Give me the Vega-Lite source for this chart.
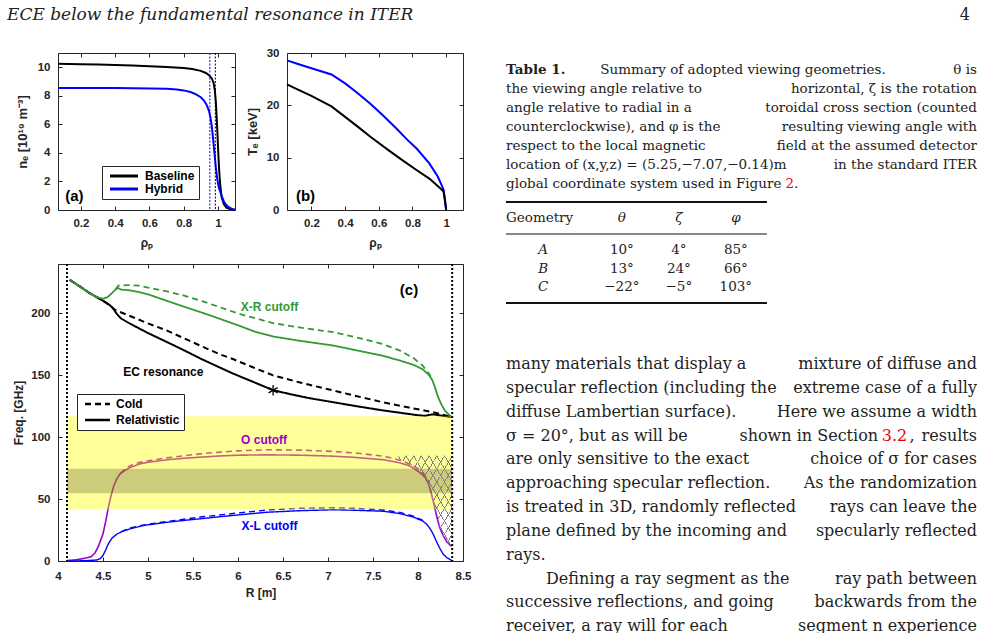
{
  "$schema": "https://vega.github.io/schema/vega-lite/v6.json",
  "background": "white",
  "padding": {"left": 7, "top": 6, "right": 0, "bottom": 0},
  "bounds": "flush",
  "spacing": 30,
  "resolve": {"scale": {"color": "independent", "strokeDash": "independent", "strokeWidth": "independent"}, "legend": {"color": "independent", "strokeDash": "independent"}},
  "datasets": {
    "curves": [
      {"R":4.13,"f":227.2,"c":"EC","m":"Relativistic"},{"R":4.25,"f":221.5,"c":"EC","m":"Relativistic"},{"R":4.35,"f":216.5,"c":"EC","m":"Relativistic"},{"R":4.43,"f":213.2,"c":"EC","m":"Relativistic"},{"R":4.5,"f":210.3,"c":"EC","m":"Relativistic"},{"R":4.58,"f":206.5,"c":"EC","m":"Relativistic"},{"R":4.615,"f":203.8,"c":"EC","m":"Relativistic"},{"R":4.65,"f":200,"c":"EC","m":"Relativistic"},{"R":4.7,"f":196,"c":"EC","m":"Relativistic"},{"R":4.8,"f":191.8,"c":"EC","m":"Relativistic"},{"R":5.0,"f":184.2,"c":"EC","m":"Relativistic"},{"R":5.2,"f":177.3,"c":"EC","m":"Relativistic"},{"R":5.4,"f":170.3,"c":"EC","m":"Relativistic"},{"R":5.6,"f":163,"c":"EC","m":"Relativistic"},{"R":5.8,"f":156.3,"c":"EC","m":"Relativistic"},{"R":5.95,"f":151.3,"c":"EC","m":"Relativistic"},{"R":6.2,"f":143.8,"c":"EC","m":"Relativistic"},{"R":6.39,"f":138,"c":"EC","m":"Relativistic"},{"R":6.6,"f":134.5,"c":"EC","m":"Relativistic"},{"R":6.8,"f":131.5,"c":"EC","m":"Relativistic"},{"R":7.06,"f":128.3,"c":"EC","m":"Relativistic"},{"R":7.3,"f":125.3,"c":"EC","m":"Relativistic"},{"R":7.6,"f":121.8,"c":"EC","m":"Relativistic"},{"R":7.8,"f":119.8,"c":"EC","m":"Relativistic"},{"R":8.0,"f":117.8,"c":"EC","m":"Relativistic"},{"R":8.08,"f":117.3,"c":"EC","m":"Relativistic"},{"R":8.12,"f":118,"c":"EC","m":"Relativistic"},{"R":8.17,"f":118.5,"c":"EC","m":"Relativistic"},{"R":8.25,"f":117.6,"c":"EC","m":"Relativistic"},{"R":8.38,"f":116.2,"c":"EC","m":"Relativistic"},
      {"R":4.13,"f":227.2,"c":"EC","m":"Cold"},{"R":4.25,"f":221.5,"c":"EC","m":"Cold"},{"R":4.35,"f":216.5,"c":"EC","m":"Cold"},{"R":4.43,"f":213.2,"c":"EC","m":"Cold"},{"R":4.5,"f":210.3,"c":"EC","m":"Cold"},{"R":4.58,"f":206.5,"c":"EC","m":"Cold"},{"R":4.63,"f":203,"c":"EC","m":"Cold"},{"R":4.8,"f":198,"c":"EC","m":"Cold"},{"R":5.0,"f":192,"c":"EC","m":"Cold"},{"R":5.2,"f":186.5,"c":"EC","m":"Cold"},{"R":5.4,"f":180,"c":"EC","m":"Cold"},{"R":5.58,"f":174,"c":"EC","m":"Cold"},{"R":5.8,"f":167,"c":"EC","m":"Cold"},{"R":5.95,"f":163,"c":"EC","m":"Cold"},{"R":6.2,"f":155.5,"c":"EC","m":"Cold"},{"R":6.39,"f":150,"c":"EC","m":"Cold"},{"R":6.7,"f":144,"c":"EC","m":"Cold"},{"R":7.06,"f":137.8,"c":"EC","m":"Cold"},{"R":7.3,"f":133.5,"c":"EC","m":"Cold"},{"R":7.61,"f":128.3,"c":"EC","m":"Cold"},{"R":7.9,"f":124,"c":"EC","m":"Cold"},{"R":8.17,"f":120.2,"c":"EC","m":"Cold"},{"R":8.38,"f":116.2,"c":"EC","m":"Cold"},
      {"R":4.13,"f":227.2,"c":"XR","m":"Relativistic"},{"R":4.25,"f":221.5,"c":"XR","m":"Relativistic"},{"R":4.35,"f":216.5,"c":"XR","m":"Relativistic"},{"R":4.43,"f":213.2,"c":"XR","m":"Relativistic"},{"R":4.5,"f":211.9,"c":"XR","m":"Relativistic"},{"R":4.55,"f":213.2,"c":"XR","m":"Relativistic"},{"R":4.6,"f":216.5,"c":"XR","m":"Relativistic"},{"R":4.64,"f":219.5,"c":"XR","m":"Relativistic"},{"R":4.67,"f":220.5,"c":"XR","m":"Relativistic"},{"R":4.7,"f":219.3,"c":"XR","m":"Relativistic"},{"R":4.8,"f":218.7,"c":"XR","m":"Relativistic"},{"R":4.9,"f":217.3,"c":"XR","m":"Relativistic"},{"R":5.02,"f":215,"c":"XR","m":"Relativistic"},{"R":5.2,"f":210.5,"c":"XR","m":"Relativistic"},{"R":5.4,"f":205.5,"c":"XR","m":"Relativistic"},{"R":5.65,"f":199.5,"c":"XR","m":"Relativistic"},{"R":6.0,"f":190.5,"c":"XR","m":"Relativistic"},{"R":6.2,"f":185,"c":"XR","m":"Relativistic"},{"R":6.39,"f":181.4,"c":"XR","m":"Relativistic"},{"R":6.7,"f":177.8,"c":"XR","m":"Relativistic"},{"R":7.06,"f":174.1,"c":"XR","m":"Relativistic"},{"R":7.3,"f":170.5,"c":"XR","m":"Relativistic"},{"R":7.6,"f":166,"c":"XR","m":"Relativistic"},{"R":7.8,"f":162,"c":"XR","m":"Relativistic"},{"R":7.95,"f":158.5,"c":"XR","m":"Relativistic"},{"R":8.05,"f":155,"c":"XR","m":"Relativistic"},{"R":8.12,"f":150.5,"c":"XR","m":"Relativistic"},{"R":8.16,"f":146,"c":"XR","m":"Relativistic"},{"R":8.19,"f":140,"c":"XR","m":"Relativistic"},{"R":8.22,"f":133,"c":"XR","m":"Relativistic"},{"R":8.26,"f":126.5,"c":"XR","m":"Relativistic"},{"R":8.3,"f":121.5,"c":"XR","m":"Relativistic"},{"R":8.34,"f":118.5,"c":"XR","m":"Relativistic"},{"R":8.38,"f":116.2,"c":"XR","m":"Relativistic"},
      {"R":4.64,"f":219.5,"c":"XR","m":"Cold"},{"R":4.67,"f":222.6,"c":"XR","m":"Cold"},{"R":4.8,"f":223,"c":"XR","m":"Cold"},{"R":4.9,"f":222.5,"c":"XR","m":"Cold"},{"R":5.0,"f":221,"c":"XR","m":"Cold"},{"R":5.2,"f":218,"c":"XR","m":"Cold"},{"R":5.4,"f":214.5,"c":"XR","m":"Cold"},{"R":5.6,"f":210,"c":"XR","m":"Cold"},{"R":5.8,"f":205,"c":"XR","m":"Cold"},{"R":6.0,"f":200,"c":"XR","m":"Cold"},{"R":6.2,"f":196,"c":"XR","m":"Cold"},{"R":6.39,"f":192.2,"c":"XR","m":"Cold"},{"R":6.7,"f":188.5,"c":"XR","m":"Cold"},{"R":7.06,"f":184.9,"c":"XR","m":"Cold"},{"R":7.3,"f":181,"c":"XR","m":"Cold"},{"R":7.6,"f":175.5,"c":"XR","m":"Cold"},{"R":7.8,"f":170,"c":"XR","m":"Cold"},{"R":7.95,"f":164,"c":"XR","m":"Cold"},{"R":8.05,"f":158,"c":"XR","m":"Cold"},{"R":8.12,"f":151.5,"c":"XR","m":"Cold"},{"R":8.16,"f":147,"c":"XR","m":"Cold"},
      {"R":4.1,"f":0.4,"c":"O","m":"Relativistic"},{"R":4.2,"f":1,"c":"O","m":"Relativistic"},{"R":4.3,"f":2.2,"c":"O","m":"Relativistic"},{"R":4.37,"f":3.5,"c":"O","m":"Relativistic"},{"R":4.41,"f":6.5,"c":"O","m":"Relativistic"},{"R":4.45,"f":12,"c":"O","m":"Relativistic"},{"R":4.5,"f":22,"c":"O","m":"Relativistic"},{"R":4.53,"f":32,"c":"O","m":"Relativistic"},{"R":4.56,"f":43.5,"c":"O","m":"Relativistic"},{"R":4.59,"f":53,"c":"O","m":"Relativistic"},{"R":4.615,"f":59.6,"c":"O","m":"Relativistic"},{"R":4.65,"f":66,"c":"O","m":"Relativistic"},{"R":4.69,"f":70.5,"c":"O","m":"Relativistic"},{"R":4.75,"f":73.5,"c":"O","m":"Relativistic"},{"R":4.8,"f":75.5,"c":"O","m":"Relativistic"},{"R":4.91,"f":78.5,"c":"O","m":"Relativistic"},{"R":5.0,"f":79.8,"c":"O","m":"Relativistic"},{"R":5.2,"f":81.7,"c":"O","m":"Relativistic"},{"R":5.4,"f":83,"c":"O","m":"Relativistic"},{"R":5.58,"f":83.9,"c":"O","m":"Relativistic"},{"R":5.8,"f":84.9,"c":"O","m":"Relativistic"},{"R":6.0,"f":85.5,"c":"O","m":"Relativistic"},{"R":6.32,"f":85.8,"c":"O","m":"Relativistic"},{"R":6.7,"f":85.5,"c":"O","m":"Relativistic"},{"R":7.06,"f":84.7,"c":"O","m":"Relativistic"},{"R":7.3,"f":83.7,"c":"O","m":"Relativistic"},{"R":7.62,"f":81.8,"c":"O","m":"Relativistic"},{"R":7.8,"f":79.3,"c":"O","m":"Relativistic"},{"R":7.9,"f":77,"c":"O","m":"Relativistic"},{"R":7.95,"f":75,"c":"O","m":"Relativistic"},{"R":8.02,"f":71.5,"c":"O","m":"Relativistic"},{"R":8.08,"f":67.5,"c":"O","m":"Relativistic"},{"R":8.12,"f":62,"c":"O","m":"Relativistic"},{"R":8.15,"f":54,"c":"O","m":"Relativistic"},{"R":8.18,"f":45,"c":"O","m":"Relativistic"},{"R":8.21,"f":35.5,"c":"O","m":"Relativistic"},{"R":8.24,"f":27.3,"c":"O","m":"Relativistic"},{"R":8.28,"f":20.5,"c":"O","m":"Relativistic"},{"R":8.32,"f":15.5,"c":"O","m":"Relativistic"},{"R":8.37,"f":12,"c":"O","m":"Relativistic"},
      {"R":4.69,"f":70.5,"c":"O","m":"Cold"},{"R":4.75,"f":74.5,"c":"O","m":"Cold"},{"R":4.8,"f":77,"c":"O","m":"Cold"},{"R":4.9,"f":79.5,"c":"O","m":"Cold"},{"R":5.0,"f":81,"c":"O","m":"Cold"},{"R":5.2,"f":83.3,"c":"O","m":"Cold"},{"R":5.4,"f":85,"c":"O","m":"Cold"},{"R":5.58,"f":86.6,"c":"O","m":"Cold"},{"R":5.8,"f":88,"c":"O","m":"Cold"},{"R":6.0,"f":89,"c":"O","m":"Cold"},{"R":6.32,"f":89.9,"c":"O","m":"Cold"},{"R":6.7,"f":89.6,"c":"O","m":"Cold"},{"R":7.06,"f":88.5,"c":"O","m":"Cold"},{"R":7.3,"f":87.3,"c":"O","m":"Cold"},{"R":7.62,"f":84.7,"c":"O","m":"Cold"},{"R":7.8,"f":81.5,"c":"O","m":"Cold"},{"R":7.95,"f":77,"c":"O","m":"Cold"},{"R":8.02,"f":73.5,"c":"O","m":"Cold"},{"R":8.08,"f":69,"c":"O","m":"Cold"},
      {"R":4.1,"f":0,"c":"XL","m":"Relativistic"},{"R":4.3,"f":0.2,"c":"XL","m":"Relativistic"},{"R":4.43,"f":0.8,"c":"XL","m":"Relativistic"},{"R":4.47,"f":2,"c":"XL","m":"Relativistic"},{"R":4.5,"f":4.5,"c":"XL","m":"Relativistic"},{"R":4.53,"f":9,"c":"XL","m":"Relativistic"},{"R":4.56,"f":14,"c":"XL","m":"Relativistic"},{"R":4.6,"f":18.5,"c":"XL","m":"Relativistic"},{"R":4.65,"f":21.5,"c":"XL","m":"Relativistic"},{"R":4.7,"f":23.5,"c":"XL","m":"Relativistic"},{"R":4.8,"f":26,"c":"XL","m":"Relativistic"},{"R":4.95,"f":28.7,"c":"XL","m":"Relativistic"},{"R":5.2,"f":31.2,"c":"XL","m":"Relativistic"},{"R":5.4,"f":32.8,"c":"XL","m":"Relativistic"},{"R":5.58,"f":34.1,"c":"XL","m":"Relativistic"},{"R":5.8,"f":35.8,"c":"XL","m":"Relativistic"},{"R":6.0,"f":37.2,"c":"XL","m":"Relativistic"},{"R":6.32,"f":39.4,"c":"XL","m":"Relativistic"},{"R":6.7,"f":40.7,"c":"XL","m":"Relativistic"},{"R":7.06,"f":41.4,"c":"XL","m":"Relativistic"},{"R":7.3,"f":41,"c":"XL","m":"Relativistic"},{"R":7.62,"f":40.2,"c":"XL","m":"Relativistic"},{"R":7.8,"f":38.3,"c":"XL","m":"Relativistic"},{"R":7.95,"f":35.4,"c":"XL","m":"Relativistic"},{"R":8.05,"f":32.5,"c":"XL","m":"Relativistic"},{"R":8.1,"f":29.5,"c":"XL","m":"Relativistic"},{"R":8.14,"f":25.5,"c":"XL","m":"Relativistic"},{"R":8.17,"f":21.5,"c":"XL","m":"Relativistic"},{"R":8.21,"f":15,"c":"XL","m":"Relativistic"},{"R":8.245,"f":9.9,"c":"XL","m":"Relativistic"},{"R":8.28,"f":5.5,"c":"XL","m":"Relativistic"},{"R":8.32,"f":2.8,"c":"XL","m":"Relativistic"},{"R":8.36,"f":1,"c":"XL","m":"Relativistic"},{"R":8.39,"f":0,"c":"XL","m":"Relativistic"},
      {"R":4.7,"f":23.5,"c":"XL","m":"Cold"},{"R":4.8,"f":26.8,"c":"XL","m":"Cold"},{"R":5.0,"f":29.8,"c":"XL","m":"Cold"},{"R":5.2,"f":31.8,"c":"XL","m":"Cold"},{"R":5.58,"f":35.5,"c":"XL","m":"Cold"},{"R":6.0,"f":38.8,"c":"XL","m":"Cold"},{"R":6.32,"f":41.2,"c":"XL","m":"Cold"},{"R":6.7,"f":42.6,"c":"XL","m":"Cold"},{"R":7.06,"f":43,"c":"XL","m":"Cold"},{"R":7.3,"f":42.6,"c":"XL","m":"Cold"},{"R":7.62,"f":41.2,"c":"XL","m":"Cold"},{"R":7.8,"f":39.3,"c":"XL","m":"Cold"},{"R":7.95,"f":36.2,"c":"XL","m":"Cold"},{"R":8.05,"f":33,"c":"XL","m":"Cold"}
    ],
    "hatch": [
      {"R":7.78,"f":82.5},{"R":7.9,"f":78.5},{"R":7.95,"f":76.5},{"R":8.0,"f":73.5},{"R":8.05,"f":70.5},{"R":8.1,"f":66},{"R":8.13,"f":60},{"R":8.17,"f":48.9},{"R":8.2,"f":40},{"R":8.24,"f":27.3},{"R":8.28,"f":20},{"R":8.32,"f":15.5},{"R":8.38,"f":11}
    ]
  },
  "vconcat": [
    {
      "width": 912,
      "height": 16,
      "data": {"values": [{"t": "ECE below the fundamental resonance in ITER", "p": "4"}]},
      "layer": [
        {"mark": {"type": "text", "align": "left", "baseline": "middle", "font": "DejaVu Serif", "fontStyle": "italic", "fontSize": 17, "color": "#222222"},
         "encoding": {"x": {"datum": 0, "type": "quantitative", "scale": {"domain": [0, 1], "range": [-51, 912], "nice": false, "zero": false}, "axis": null}, "text": {"field": "t"}}},
        {"mark": {"type": "text", "align": "right", "baseline": "middle", "font": "DejaVu Serif", "fontSize": 16, "color": "#222222"},
         "encoding": {"x": {"datum": 1, "type": "quantitative", "axis": null}, "text": {"field": "p"}}}
      ]
    },
    {
      "bounds": "flush",
      "spacing": 448,
      "resolve": {"scale": {"color": "independent", "strokeDash": "independent", "strokeWidth": "independent"}, "legend": {"color": "independent", "strokeDash": "independent"}},
      "hconcat": [
        {
          "bounds": "flush",
          "spacing": 211,
          "resolve": {"scale": {"color": "independent", "strokeDash": "independent", "strokeWidth": "independent"}, "legend": {"color": "independent", "strokeDash": "independent"}},
          "vconcat": [
            {
              "bounds": "flush",
              "spacing": 52,
              "resolve": {"scale": {"color": "independent"}, "legend": {"color": "independent"}},
              "hconcat": [
                {
                  "width": 177, "height": 157,
                  "resolve": {"axis": {"x": "independent", "y": "independent"}},
                  "layer": [
                    {"data": {"values": [
                      {"rho":0.066,"v":10.25,"case":"Baseline"},{"rho":0.2,"v":10.22,"case":"Baseline"},{"rho":0.3,"v":10.2,"case":"Baseline"},{"rho":0.4,"v":10.16,"case":"Baseline"},{"rho":0.5,"v":10.12,"case":"Baseline"},{"rho":0.6,"v":10.07,"case":"Baseline"},{"rho":0.7,"v":10.02,"case":"Baseline"},{"rho":0.8,"v":9.95,"case":"Baseline"},{"rho":0.85,"v":9.88,"case":"Baseline"},{"rho":0.9,"v":9.75,"case":"Baseline"},{"rho":0.93,"v":9.6,"case":"Baseline"},{"rho":0.95,"v":9.42,"case":"Baseline"},{"rho":0.965,"v":9.2,"case":"Baseline"},{"rho":0.975,"v":8.9,"case":"Baseline"},{"rho":0.982,"v":8.4,"case":"Baseline"},{"rho":0.988,"v":7.6,"case":"Baseline"},{"rho":0.993,"v":6.5,"case":"Baseline"},{"rho":0.998,"v":5.2,"case":"Baseline"},{"rho":1.003,"v":3.8,"case":"Baseline"},{"rho":1.008,"v":2.7,"case":"Baseline"},{"rho":1.014,"v":1.7,"case":"Baseline"},{"rho":1.022,"v":0.9,"case":"Baseline"},{"rho":1.035,"v":0.4,"case":"Baseline"},{"rho":1.05,"v":0.17,"case":"Baseline"},{"rho":1.07,"v":0.06,"case":"Baseline"},{"rho":1.1,"v":0.02,"case":"Baseline"},
                      {"rho":0.066,"v":8.55,"case":"Hybrid"},{"rho":0.2,"v":8.55,"case":"Hybrid"},{"rho":0.4,"v":8.54,"case":"Hybrid"},{"rho":0.6,"v":8.52,"case":"Hybrid"},{"rho":0.7,"v":8.49,"case":"Hybrid"},{"rho":0.76,"v":8.45,"case":"Hybrid"},{"rho":0.8,"v":8.38,"case":"Hybrid"},{"rho":0.84,"v":8.27,"case":"Hybrid"},{"rho":0.87,"v":8.12,"case":"Hybrid"},{"rho":0.9,"v":7.9,"case":"Hybrid"},{"rho":0.92,"v":7.65,"case":"Hybrid"},{"rho":0.935,"v":7.35,"case":"Hybrid"},{"rho":0.948,"v":6.95,"case":"Hybrid"},{"rho":0.958,"v":6.4,"case":"Hybrid"},{"rho":0.965,"v":5.8,"case":"Hybrid"},{"rho":0.972,"v":5.0,"case":"Hybrid"},{"rho":0.98,"v":4.0,"case":"Hybrid"},{"rho":0.988,"v":3.0,"case":"Hybrid"},{"rho":0.996,"v":2.2,"case":"Hybrid"},{"rho":1.005,"v":1.6,"case":"Hybrid"},{"rho":1.02,"v":1.05,"case":"Hybrid"},{"rho":1.035,"v":0.6,"case":"Hybrid"},{"rho":1.05,"v":0.33,"case":"Hybrid"},{"rho":1.068,"v":0.16,"case":"Hybrid"},{"rho":1.085,"v":0.06,"case":"Hybrid"},{"rho":1.1,"v":0.02,"case":"Hybrid"}
                    ]},
                     "mark": {"type": "line", "strokeWidth": 2},
                     "encoding": {
                       "x": {"field": "rho", "type": "quantitative", "scale": {"domain": [0.066, 1.1], "nice": false, "zero": false}, "axis": {"values": [0.2, 0.4, 0.6, 0.8, 1], "format": "~g", "title": "ρₚ", "labelPadding": 11.5, "titlePadding": 8}},
                       "y": {"field": "v", "type": "quantitative", "scale": {"domain": [0, 11], "nice": false}, "axis": {"values": [0, 2, 4, 6, 8, 10], "title": "nₑ [10¹⁹ m⁻³]", "titleFontSize": 13, "labelPadding": 12, "titlePadding": 8}},
                       "color": {"field": "case", "type": "nominal", "scale": {"domain": ["Baseline", "Hybrid"], "range": ["#000000", "#0000ff"]},
                         "legend": {"title": null, "orient": "none", "legendX": 44, "legendY": 113, "symbolType": "M-1,0L13,0", "symbolSize": 16, "symbolStrokeWidth": 3, "symbolFillColor": "transparent", "strokeColor": "#262626", "fillColor": "white", "padding": 4, "rowPadding": 1, "labelOffset": 27, "cornerRadius": 0}}
                     }},
                    {"data": {"values": [{"rho": 0.953, "case": "Hybrid"}, {"rho": 0.985, "case": "Baseline"}]},
                     "mark": {"type": "rule", "strokeDash": [2, 1.5], "strokeWidth": 1},
                     "encoding": {"x": {"field": "rho", "type": "quantitative", "axis": null}, "color": {"field": "case", "type": "nominal"}}},
                    {"data": {"values": [{"t": "(a)"}]},
                     "mark": {"type": "text", "font": "Liberation Sans", "fontWeight": "bold", "fontSize": 15, "color": "#000000"},
                     "encoding": {"x": {"datum": 0.162, "type": "quantitative", "axis": null}, "y": {"datum": 0.98, "type": "quantitative", "axis": null}, "text": {"field": "t"}}},
                    {"data": {"values": [{}]},
                     "mark": {"type": "point", "opacity": 0},
                     "encoding": {"x": {"datum": 0.5, "type": "quantitative", "axis": {"orient": "top", "values": [0.2, 0.4, 0.6, 0.8, 1], "labels": false, "title": null}},
                                  "y": {"datum": 5, "type": "quantitative", "axis": {"orient": "right", "values": [0, 2, 4, 6, 8, 10], "labels": false, "title": null}}}}
                  ]
                },
                {
                  "width": 176, "height": 157,
                  "resolve": {"axis": {"x": "independent", "y": "independent"}},
                  "layer": [
                    {"data": {"values": [
                      {"rho":0.055,"v":28.6,"case":"Hybrid"},{"rho":0.12,"v":27.9,"case":"Hybrid"},{"rho":0.2,"v":27.1,"case":"Hybrid"},{"rho":0.319,"v":25.9,"case":"Hybrid"},{"rho":0.4,"v":24.2,"case":"Hybrid"},{"rho":0.468,"v":22.5,"case":"Hybrid"},{"rho":0.55,"v":20.3,"case":"Hybrid"},{"rho":0.627,"v":18.0,"case":"Hybrid"},{"rho":0.7,"v":15.7,"case":"Hybrid"},{"rho":0.77,"v":13.4,"case":"Hybrid"},{"rho":0.826,"v":11.7,"case":"Hybrid"},{"rho":0.9,"v":8.9,"case":"Hybrid"},{"rho":0.95,"v":6.4,"case":"Hybrid"},{"rho":0.975,"v":4.6,"case":"Hybrid"},{"rho":0.984,"v":3.9,"case":"Hybrid"},{"rho":0.992,"v":2.2,"case":"Hybrid"},{"rho":1.0,"v":0,"case":"Hybrid"},
                      {"rho":0.055,"v":24.0,"case":"Baseline"},{"rho":0.12,"v":23.0,"case":"Baseline"},{"rho":0.2,"v":21.8,"case":"Baseline"},{"rho":0.319,"v":19.8,"case":"Baseline"},{"rho":0.4,"v":17.8,"case":"Baseline"},{"rho":0.488,"v":15.6,"case":"Baseline"},{"rho":0.55,"v":14.0,"case":"Baseline"},{"rho":0.667,"v":11.2,"case":"Baseline"},{"rho":0.75,"v":9.3,"case":"Baseline"},{"rho":0.826,"v":7.6,"case":"Baseline"},{"rho":0.9,"v":6.0,"case":"Baseline"},{"rho":0.95,"v":4.6,"case":"Baseline"},{"rho":0.984,"v":3.6,"case":"Baseline"},{"rho":0.992,"v":2.0,"case":"Baseline"},{"rho":1.0,"v":0,"case":"Baseline"}
                    ]},
                     "mark": {"type": "line", "strokeWidth": 2},
                     "encoding": {
                       "x": {"field": "rho", "type": "quantitative", "scale": {"domain": [0.055, 1.1], "nice": false, "zero": false}, "axis": {"values": [0.2, 0.4, 0.6, 0.8, 1], "format": "~g", "title": "ρₚ", "labelPadding": 11.5, "titlePadding": 8}},
                       "y": {"field": "v", "type": "quantitative", "scale": {"domain": [0, 30], "nice": false}, "axis": {"values": [0, 10, 20, 30], "title": "Tₑ [keV]", "titleFontSize": 13, "labelPadding": 12, "titlePadding": 7}},
                       "color": {"field": "case", "type": "nominal", "scale": {"domain": ["Baseline", "Hybrid"], "range": ["#000000", "#0000ff"]}, "legend": null}
                     }},
                    {"data": {"values": [{"t": "(b)"}]},
                     "mark": {"type": "text", "font": "Liberation Sans", "fontWeight": "bold", "fontSize": 15, "color": "#000000"},
                     "encoding": {"x": {"datum": 0.165, "type": "quantitative", "axis": null}, "y": {"datum": 2.62, "type": "quantitative", "axis": null}, "text": {"field": "t"}}},
                    {"data": {"values": [{}]},
                     "mark": {"type": "point", "opacity": 0},
                     "encoding": {"x": {"datum": 0.5, "type": "quantitative", "axis": {"orient": "top", "values": [0.2, 0.4, 0.6, 0.8, 1], "labels": false, "title": null}},
                                  "y": {"datum": 5, "type": "quantitative", "axis": {"orient": "right", "values": [0, 10, 20, 30], "labels": false, "title": null}}}}
                  ]
                }
              ]
            },
            {
              "width": 405, "height": 297,
              "resolve": {"axis": {"x": "independent", "y": "independent"}},
              "layer": [
                {"data": {"name": "curves"},
                 "mark": {"type": "line"},
                 "encoding": {
                   "x": {"field": "R", "type": "quantitative", "scale": {"domain": [4, 8.5], "nice": false, "zero": false}, "axis": {"values": [4, 4.5, 5, 5.5, 6, 6.5, 7, 7.5, 8, 8.5], "format": "~g", "title": "R [m]", "labelPadding": 13, "titlePadding": 6}},
                   "y": {"field": "f", "type": "quantitative", "scale": {"domain": [0, 240], "nice": false}, "axis": {"values": [0, 50, 100, 150, 200], "title": "Freq. [GHz]", "labelPadding": 12, "titlePadding": 5}},
                   "color": {"field": "c", "type": "nominal", "scale": {"domain": ["EC", "XR", "O", "XL"], "range": ["#000000", "#339933", "#9900cc", "#0000ff"]}, "legend": null},
                   "strokeWidth": {"field": "c", "type": "nominal", "scale": {"domain": ["EC", "XR", "O", "XL"], "range": [2, 1.4, 1.4, 1.4]}, "legend": null},
                   "strokeDash": {"field": "m", "type": "nominal", "scale": {"domain": ["Cold", "Relativistic"], "range": [[6, 4], [1, 0]]},
                     "legend": {"title": null, "orient": "none", "legendX": 19, "legendY": 130, "symbolType": "M-1,0L11.5,0", "symbolSize": 16, "symbolStrokeColor": "#000000", "symbolFillColor": "transparent", "symbolStrokeWidth": 2.5, "strokeColor": "#262626", "fillColor": "white", "padding": 4, "rowPadding": 4, "labelOffset": 23, "cornerRadius": 0}}
                 }},
                {"data": {"values": [{"R": 4.1, "R2": 8.38, "f": 41.6, "f2": 117}]},
                 "mark": {"type": "rect", "color": "#ffff00", "opacity": 0.4},
                 "encoding": {"x": {"field": "R", "type": "quantitative", "axis": null}, "x2": {"field": "R2"}, "y": {"field": "f", "type": "quantitative", "axis": null}, "y2": {"field": "f2"}}},
                {"data": {"values": [{"R": 4.1, "R2": 8.38, "f": 54.8, "f2": 74.5}]},
                 "mark": {"type": "rect", "color": "#000000", "opacity": 0.2},
                 "encoding": {"x": {"field": "R", "type": "quantitative", "axis": null}, "x2": {"field": "R2"}, "y": {"field": "f", "type": "quantitative", "axis": null}, "y2": {"field": "f2"}}},
                {"data": {"name": "hatch"},
                 "mark": {"type": "area", "opacity": 1, "color": {"gradient": "linear", "x1": 0, "y1": 0, "x2": 1, "y2": 1, "stops": [
                   {"offset":0,"color":"rgba(128,128,128,0)"},
                   {"offset":0.0669,"color":"rgba(128,128,128,0)"},{"offset":0.0669,"color":"#808080"},{"offset":0.0759,"color":"#808080"},{"offset":0.0759,"color":"rgba(128,128,128,0)"},
                   {"offset":0.1384,"color":"rgba(128,128,128,0)"},{"offset":0.1384,"color":"#808080"},{"offset":0.1474,"color":"#808080"},{"offset":0.1474,"color":"rgba(128,128,128,0)"},
                   {"offset":0.2098,"color":"rgba(128,128,128,0)"},{"offset":0.2098,"color":"#808080"},{"offset":0.2188,"color":"#808080"},{"offset":0.2188,"color":"rgba(128,128,128,0)"},
                   {"offset":0.2812,"color":"rgba(128,128,128,0)"},{"offset":0.2812,"color":"#808080"},{"offset":0.2902,"color":"#808080"},{"offset":0.2902,"color":"rgba(128,128,128,0)"},
                   {"offset":0.3526,"color":"rgba(128,128,128,0)"},{"offset":0.3526,"color":"#808080"},{"offset":0.3616,"color":"#808080"},{"offset":0.3616,"color":"rgba(128,128,128,0)"},
                   {"offset":0.4241,"color":"rgba(128,128,128,0)"},{"offset":0.4241,"color":"#808080"},{"offset":0.4331,"color":"#808080"},{"offset":0.4331,"color":"rgba(128,128,128,0)"},
                   {"offset":0.4955,"color":"rgba(128,128,128,0)"},{"offset":0.4955,"color":"#808080"},{"offset":0.5045,"color":"#808080"},{"offset":0.5045,"color":"rgba(128,128,128,0)"},
                   {"offset":0.5669,"color":"rgba(128,128,128,0)"},{"offset":0.5669,"color":"#808080"},{"offset":0.5759,"color":"#808080"},{"offset":0.5759,"color":"rgba(128,128,128,0)"},
                   {"offset":0.6384,"color":"rgba(128,128,128,0)"},{"offset":0.6384,"color":"#808080"},{"offset":0.6474,"color":"#808080"},{"offset":0.6474,"color":"rgba(128,128,128,0)"},
                   {"offset":0.7098,"color":"rgba(128,128,128,0)"},{"offset":0.7098,"color":"#808080"},{"offset":0.7188,"color":"#808080"},{"offset":0.7188,"color":"rgba(128,128,128,0)"},
                   {"offset":0.7812,"color":"rgba(128,128,128,0)"},{"offset":0.7812,"color":"#808080"},{"offset":0.7902,"color":"#808080"},{"offset":0.7902,"color":"rgba(128,128,128,0)"},
                   {"offset":0.8526,"color":"rgba(128,128,128,0)"},{"offset":0.8526,"color":"#808080"},{"offset":0.8616,"color":"#808080"},{"offset":0.8616,"color":"rgba(128,128,128,0)"},
                   {"offset":0.9241,"color":"rgba(128,128,128,0)"},{"offset":0.9241,"color":"#808080"},{"offset":0.9331,"color":"#808080"},{"offset":0.9331,"color":"rgba(128,128,128,0)"},
                   {"offset":1,"color":"rgba(128,128,128,0)"}]}},
                 "encoding": {"x": {"field": "R", "type": "quantitative", "axis": null}, "y": {"field": "f", "type": "quantitative", "axis": null}, "y2": {"datum": 85}}},
                {"data": {"name": "hatch"},
                 "mark": {"type": "area", "opacity": 1, "color": {"gradient": "linear", "x1": 1, "y1": 0, "x2": 0, "y2": 1, "stops": [
                   {"offset":0,"color":"rgba(128,128,128,0)"},
                   {"offset":0.0669,"color":"rgba(128,128,128,0)"},{"offset":0.0669,"color":"#808080"},{"offset":0.0759,"color":"#808080"},{"offset":0.0759,"color":"rgba(128,128,128,0)"},
                   {"offset":0.1384,"color":"rgba(128,128,128,0)"},{"offset":0.1384,"color":"#808080"},{"offset":0.1474,"color":"#808080"},{"offset":0.1474,"color":"rgba(128,128,128,0)"},
                   {"offset":0.2098,"color":"rgba(128,128,128,0)"},{"offset":0.2098,"color":"#808080"},{"offset":0.2188,"color":"#808080"},{"offset":0.2188,"color":"rgba(128,128,128,0)"},
                   {"offset":0.2812,"color":"rgba(128,128,128,0)"},{"offset":0.2812,"color":"#808080"},{"offset":0.2902,"color":"#808080"},{"offset":0.2902,"color":"rgba(128,128,128,0)"},
                   {"offset":0.3526,"color":"rgba(128,128,128,0)"},{"offset":0.3526,"color":"#808080"},{"offset":0.3616,"color":"#808080"},{"offset":0.3616,"color":"rgba(128,128,128,0)"},
                   {"offset":0.4241,"color":"rgba(128,128,128,0)"},{"offset":0.4241,"color":"#808080"},{"offset":0.4331,"color":"#808080"},{"offset":0.4331,"color":"rgba(128,128,128,0)"},
                   {"offset":0.4955,"color":"rgba(128,128,128,0)"},{"offset":0.4955,"color":"#808080"},{"offset":0.5045,"color":"#808080"},{"offset":0.5045,"color":"rgba(128,128,128,0)"},
                   {"offset":0.5669,"color":"rgba(128,128,128,0)"},{"offset":0.5669,"color":"#808080"},{"offset":0.5759,"color":"#808080"},{"offset":0.5759,"color":"rgba(128,128,128,0)"},
                   {"offset":0.6384,"color":"rgba(128,128,128,0)"},{"offset":0.6384,"color":"#808080"},{"offset":0.6474,"color":"#808080"},{"offset":0.6474,"color":"rgba(128,128,128,0)"},
                   {"offset":0.7098,"color":"rgba(128,128,128,0)"},{"offset":0.7098,"color":"#808080"},{"offset":0.7188,"color":"#808080"},{"offset":0.7188,"color":"rgba(128,128,128,0)"},
                   {"offset":0.7812,"color":"rgba(128,128,128,0)"},{"offset":0.7812,"color":"#808080"},{"offset":0.7902,"color":"#808080"},{"offset":0.7902,"color":"rgba(128,128,128,0)"},
                   {"offset":0.8526,"color":"rgba(128,128,128,0)"},{"offset":0.8526,"color":"#808080"},{"offset":0.8616,"color":"#808080"},{"offset":0.8616,"color":"rgba(128,128,128,0)"},
                   {"offset":0.9241,"color":"rgba(128,128,128,0)"},{"offset":0.9241,"color":"#808080"},{"offset":0.9331,"color":"#808080"},{"offset":0.9331,"color":"rgba(128,128,128,0)"},
                   {"offset":1,"color":"rgba(128,128,128,0)"}]}},
                 "encoding": {"x": {"field": "R", "type": "quantitative", "axis": null}, "y": {"field": "f", "type": "quantitative", "axis": null}, "y2": {"datum": 85}}},
                {"data": {"values": [{"R": 4.1}, {"R": 8.38}]},
                 "mark": {"type": "rule", "color": "#000000", "strokeWidth": 2, "strokeDash": [2, 2]},
                 "encoding": {"x": {"field": "R", "type": "quantitative", "axis": null}}},
                {"data": {"values": [{"R": 6.39, "f": 138}]},
                 "mark": {"type": "point", "shape": "M0,-1L0,1M-0.87,-0.5L0.87,0.5M-0.87,0.5L0.87,-0.5", "size": 110, "filled": false, "color": "#000000", "strokeWidth": 1.3, "opacity": 1},
                 "encoding": {"x": {"field": "R", "type": "quantitative", "axis": null}, "y": {"field": "f", "type": "quantitative", "axis": null}}},
                {"data": {"values": [
                   {"R": 6.35, "f": 205, "t": "X-R cutoff", "c": "XR"},
                   {"R": 5.17, "f": 152.6, "t": "EC resonance", "c": "EC"},
                   {"R": 6.29, "f": 97.5, "t": "O cutoff", "c": "O"},
                   {"R": 6.35, "f": 27.9, "t": "X-L cutoff", "c": "XL"}]},
                 "mark": {"type": "text", "font": "Liberation Sans", "fontWeight": "bold", "fontSize": 12},
                 "encoding": {"x": {"field": "R", "type": "quantitative", "axis": null}, "y": {"field": "f", "type": "quantitative", "axis": null}, "text": {"field": "t"}, "color": {"field": "c", "type": "nominal", "legend": null}}},
                {"data": {"values": [{"R": 7.9, "f": 219, "t": "(c)"}]},
                 "mark": {"type": "text", "font": "Liberation Sans", "fontWeight": "bold", "fontSize": 15, "color": "#000000"},
                 "encoding": {"x": {"field": "R", "type": "quantitative", "axis": null}, "y": {"field": "f", "type": "quantitative", "axis": null}, "text": {"field": "t"}}},
                {"data": {"values": [{}]},
                 "mark": {"type": "point", "opacity": 0},
                 "encoding": {"x": {"datum": 6, "type": "quantitative", "axis": {"orient": "top", "values": [4, 4.5, 5, 5.5, 6, 6.5, 7, 7.5, 8, 8.5], "labels": false, "title": null}},
                              "y": {"datum": 100, "type": "quantitative", "axis": {"orient": "right", "values": [0, 50, 100, 150, 200], "labels": false, "title": null}}}}
              ]
            }
          ]
        },
        {
          "bounds": "flush",
          "spacing": 299.4,
          "vconcat": [
            {
              "bounds": "flush",
              "spacing": 0,
              "vconcat": [
                {
                  "width": 471, "height": 148.7,
                  "data": {"values": [
                    {"ln": 0, "b": "Table 1.", "m": "Summary of adopted viewing geometries.", "r": "θ is"},
                    {"ln": 1, "l": "the viewing angle relative to", "r": "horizontal, ζ is the rotation"},
                    {"ln": 2, "l": "angle relative to radial in a", "r": "toroidal cross section (counted"},
                    {"ln": 3, "l": "counterclockwise), and φ is the", "r": "resulting viewing angle with"},
                    {"ln": 4, "l": "respect to the local magnetic", "r": "field at the assumed detector"},
                    {"ln": 5, "l": "location of (x,y,z) = (5.25,−7.07,−0.14)m", "r": "in the standard ITER"},
                    {"ln": 6, "l": "global coordinate system used in Figure", "red": "2", "dot": "."}
                  ]},
                  "encoding": {"y": {"field": "ln", "type": "ordinal", "scale": {"type": "point", "padding": 0.913}, "axis": null}},
                  "layer": [
                    {"transform": [{"filter": "datum.b"}],
                     "mark": {"type": "text", "align": "left", "baseline": "middle", "font": "DejaVu Serif", "fontSize": 13.5, "fontWeight": "bold", "color": "#222222"},
                     "encoding": {"x": {"datum": 0, "type": "quantitative", "scale": {"domain": [0, 1], "nice": false, "zero": false}, "axis": null}, "text": {"field": "b"}}},
                    {"transform": [{"filter": "datum.m"}],
                     "mark": {"type": "text", "align": "left", "baseline": "middle", "font": "DejaVu Serif", "fontSize": 13.5, "color": "#222222"},
                     "encoding": {"x": {"datum": 0.2, "type": "quantitative"}, "text": {"field": "m"}}},
                    {"transform": [{"filter": "datum.l"}],
                     "mark": {"type": "text", "align": "left", "baseline": "middle", "font": "DejaVu Serif", "fontSize": 13.5, "color": "#222222"},
                     "encoding": {"x": {"datum": 0, "type": "quantitative"}, "text": {"field": "l"}}},
                    {"transform": [{"filter": "datum.red"}],
                     "mark": {"type": "text", "align": "left", "baseline": "middle", "font": "DejaVu Serif", "fontSize": 13.5, "color": "#ee0000"},
                     "encoding": {"x": {"datum": 0.5934, "type": "quantitative"}, "text": {"field": "red"}}},
                    {"transform": [{"filter": "datum.dot"}],
                     "mark": {"type": "text", "align": "left", "baseline": "middle", "font": "DejaVu Serif", "fontSize": 13.5, "color": "#222222"},
                     "encoding": {"x": {"datum": 0.6117, "type": "quantitative"}, "text": {"field": "dot"}}},
                    {"transform": [{"filter": "datum.r"}],
                     "mark": {"type": "text", "align": "right", "baseline": "middle", "font": "DejaVu Serif", "fontSize": 13.5, "color": "#222222"},
                     "encoding": {"x": {"datum": 1, "type": "quantitative"}, "text": {"field": "r"}}}
                  ]
                },
                {
                  "width": 471, "height": 32,
                  "data": {"values": [{"g": "Geometry", "t": "θ", "z": "ζ", "p": "φ"}]},
                  "encoding": {"y": {"datum": 0.5, "type": "quantitative", "scale": {"domain": [0, 1], "nice": false, "zero": false}, "axis": null}},
                  "layer": [
                    {"mark": {"type": "text", "align": "left", "baseline": "middle", "font": "DejaVu Serif", "fontSize": 13.5, "color": "#222222"},
                     "encoding": {"x": {"datum": 0, "type": "quantitative", "scale": {"domain": [0, 1], "nice": false, "zero": false}, "axis": null}, "text": {"field": "g"}}},
                    {"mark": {"type": "text", "align": "center", "baseline": "middle", "font": "DejaVu Serif", "fontStyle": "italic", "fontSize": 13.5, "color": "#222222"},
                     "encoding": {"x": {"datum": 0.246, "type": "quantitative"}, "text": {"field": "t"}}},
                    {"mark": {"type": "text", "align": "center", "baseline": "middle", "font": "DejaVu Serif", "fontStyle": "italic", "fontSize": 13.5, "color": "#222222"},
                     "encoding": {"x": {"datum": 0.367, "type": "quantitative"}, "text": {"field": "z"}}},
                    {"mark": {"type": "text", "align": "center", "baseline": "middle", "font": "DejaVu Serif", "fontStyle": "italic", "fontSize": 13.5, "color": "#222222"},
                     "encoding": {"x": {"datum": 0.488, "type": "quantitative"}, "text": {"field": "p"}}},
                    {"mark": {"type": "rule", "strokeWidth": 1.8, "color": "#111111"},
                     "encoding": {"x": {"datum": 0, "type": "quantitative"}, "x2": {"datum": 0.554}, "y": {"datum": 1, "type": "quantitative"}}},
                    {"mark": {"type": "rule", "strokeWidth": 1, "color": "#111111"},
                     "encoding": {"x": {"datum": 0, "type": "quantitative"}, "x2": {"datum": 0.554}, "y": {"datum": 0, "type": "quantitative"}}}
                  ]
                },
                {
                  "width": 471, "height": 69,
                  "data": {"values": [
                    {"g": "A", "t": "10°", "z": "4°", "p": "85°"},
                    {"g": "B", "t": "13°", "z": "24°", "p": "66°"},
                    {"g": "C", "t": "−22°", "z": "−5°", "p": "103°"}
                  ]},
                  "layer": [
                    {"mark": {"type": "text", "align": "center", "baseline": "middle", "font": "DejaVu Serif", "fontStyle": "italic", "fontSize": 13.5, "color": "#222222"},
                     "encoding": {"x": {"datum": 0.079, "type": "quantitative", "scale": {"domain": [0, 1], "nice": false, "zero": false}, "axis": null},
                                  "y": {"field": "g", "type": "ordinal", "scale": {"type": "point", "padding": 0.83}, "axis": null}, "text": {"field": "g"}}},
                    {"mark": {"type": "text", "align": "center", "baseline": "middle", "font": "DejaVu Serif", "fontSize": 13.5, "color": "#222222"},
                     "encoding": {"x": {"datum": 0.246, "type": "quantitative"}, "y": {"field": "g", "type": "ordinal"}, "text": {"field": "t"}}},
                    {"mark": {"type": "text", "align": "center", "baseline": "middle", "font": "DejaVu Serif", "fontSize": 13.5, "color": "#222222"},
                     "encoding": {"x": {"datum": 0.367, "type": "quantitative"}, "y": {"field": "g", "type": "ordinal"}, "text": {"field": "z"}}},
                    {"mark": {"type": "text", "align": "center", "baseline": "middle", "font": "DejaVu Serif", "fontSize": 13.5, "color": "#222222"},
                     "encoding": {"x": {"datum": 0.488, "type": "quantitative"}, "y": {"field": "g", "type": "ordinal"}, "text": {"field": "p"}}},
                    {"data": {"values": [{}]},
                     "mark": {"type": "rule", "strokeWidth": 1.8, "color": "#111111"},
                     "encoding": {"x": {"datum": 0, "type": "quantitative"}, "x2": {"datum": 0.554}, "y": {"value": "height"}}}
                  ]
                }
              ]
            },
            {
              "width": 471, "height": 281.7,
              "data": {"values": [
                {"ln": 0, "l": "many materials that display a", "r": "mixture of diffuse and"},
                {"ln": 1, "l": "specular reflection (including the", "r": "extreme case of a fully"},
                {"ln": 2, "l": "diffuse Lambertian surface).", "r": "Here we assume a width"},
                {"ln": 3, "l": "σ = 20°, but as will be", "s": "shown in Section", "red": "3.2", "cm": ",", "r": "results"},
                {"ln": 4, "l": "are only sensitive to the exact", "r": "choice of σ for cases"},
                {"ln": 5, "l": "approaching specular reflection.", "r": "As the randomization"},
                {"ln": 6, "l": "is treated in 3D, randomly reflected", "r": "rays can leave the"},
                {"ln": 7, "l": "plane defined by the incoming and", "r": "specularly reflected"},
                {"ln": 8, "l": "rays."},
                {"ln": 9, "li": "Defining a ray segment as the", "r": "ray path between"},
                {"ln": 10, "l": "successive reflections, and going", "r": "backwards from the"},
                {"ln": 11, "l": "receiver, a ray will for each", "r": "segment n experience"}
              ]},
              "encoding": {"y": {"field": "ln", "type": "ordinal", "scale": {"type": "point", "padding": 0.418, "align": 0.598}, "axis": null}},
              "layer": [
                {"transform": [{"filter": "datum.l"}],
                 "mark": {"type": "text", "align": "left", "baseline": "middle", "font": "DejaVu Serif", "fontSize": 16, "color": "#1e1e1e"},
                 "encoding": {"x": {"datum": 0, "type": "quantitative", "scale": {"domain": [0, 1], "nice": false, "zero": false}, "axis": null}, "text": {"field": "l"}}},
                {"transform": [{"filter": "datum.li"}],
                 "mark": {"type": "text", "align": "left", "baseline": "middle", "font": "DejaVu Serif", "fontSize": 16, "color": "#1e1e1e"},
                 "encoding": {"x": {"datum": 0.085, "type": "quantitative"}, "text": {"field": "li"}}},
                {"transform": [{"filter": "datum.s"}],
                 "mark": {"type": "text", "align": "right", "baseline": "middle", "font": "DejaVu Serif", "fontSize": 16, "color": "#1e1e1e"},
                 "encoding": {"x": {"datum": 0.79, "type": "quantitative"}, "text": {"field": "s"}}},
                {"transform": [{"filter": "datum.red"}],
                 "mark": {"type": "text", "align": "left", "baseline": "middle", "font": "DejaVu Serif", "fontSize": 16, "color": "#ee0000"},
                 "encoding": {"x": {"datum": 0.798, "type": "quantitative"}, "text": {"field": "red"}}},
                {"transform": [{"filter": "datum.cm"}],
                 "mark": {"type": "text", "align": "left", "baseline": "middle", "font": "DejaVu Serif", "fontSize": 16, "color": "#1e1e1e"},
                 "encoding": {"x": {"datum": 0.8565, "type": "quantitative"}, "text": {"field": "cm"}}},
                {"transform": [{"filter": "datum.r"}],
                 "mark": {"type": "text", "align": "right", "baseline": "middle", "font": "DejaVu Serif", "fontSize": 16, "color": "#1e1e1e"},
                 "encoding": {"x": {"datum": 1, "type": "quantitative"}, "text": {"field": "r"}}}
              ]
            }
          ]
        }
      ]
    }
  ],
  "config": {
    "view": {"stroke": null},
    "axis": {
      "labelFont": "Liberation Sans", "labelFontWeight": "bold", "labelFontSize": 11.5, "labelColor": "#262626",
      "titleFont": "Liberation Sans", "titleFontWeight": "bold", "titleFontSize": 12, "titleColor": "#262626",
      "domainColor": "#262626", "tickColor": "#262626", "grid": false, "tickSize": -4,
      "labelFlush": false, "labelOverlap": false
    },
    "legend": {"labelFont": "Liberation Sans", "labelFontWeight": "bold", "labelFontSize": 12, "labelColor": "#000000"}
  }
}
